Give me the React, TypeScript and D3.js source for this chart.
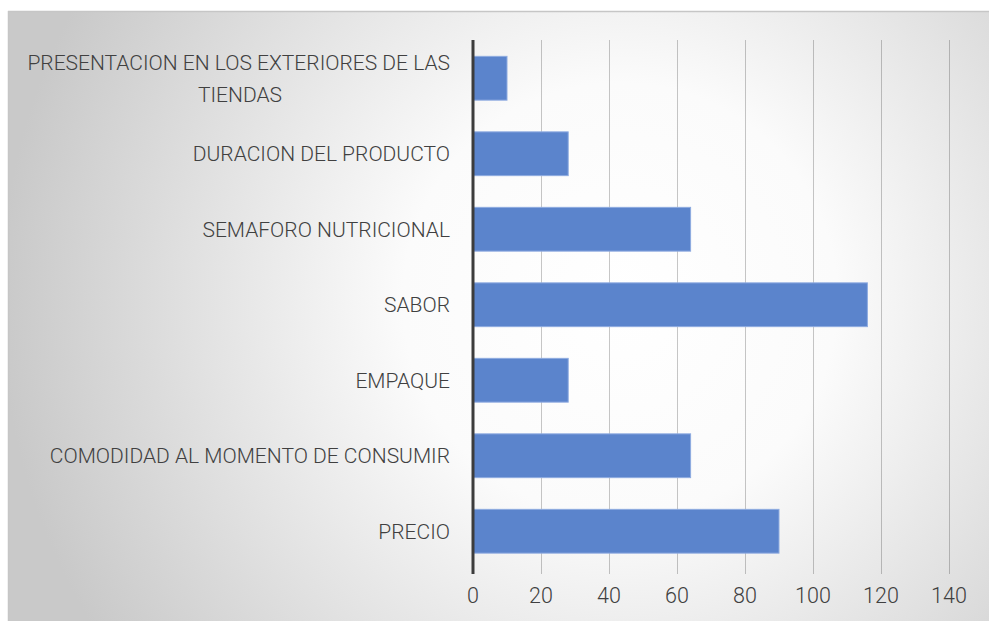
import React from "react";
import * as d3 from "d3";

const categories = [
  "PRESENTACION EN LOS EXTERIORES DE LAS|TIENDAS",
  "DURACION DEL PRODUCTO",
  "SEMAFORO NUTRICIONAL",
  "SABOR",
  "EMPAQUE",
  "COMODIDAD AL MOMENTO DE CONSUMIR",
  "PRECIO ",
];
const values = [10, 28, 64, 116, 28, 64, 90];
const ticks = [0, 20, 40, 60, 80, 100, 120, 140];

const W = 989;
const H = 621;

export default function App() {
  const x = d3.scaleLinear().domain([0, 140]).range([473, 949]);
  const y = d3
    .scaleBand<string>()
    .domain(categories)
    .range([40.5, 569])
    .paddingInner(0.42)
    .paddingOuter(0.21);
  const font = "Roboto, 'Noto Sans', sans-serif";
  const lblSize = 21;
  return (
    <svg
      width={W}
      height={H}
      style={{ position: "absolute", left: 0, top: 0 }}
    >
      <defs>
        <radialGradient
          id="bg"
          cx="620"
          cy="300"
          r="620"
          gradientUnits="userSpaceOnUse"
        >
          <stop offset="0" stopColor="#ffffff" />
          <stop offset="0.35" stopColor="#fbfbfb" />
          <stop offset="1" stopColor="#c9c9c9" />
        </radialGradient>
      </defs>
      <rect x={0} y={0} width={W} height={H} fill="#ffffff" />
      <rect x={8} y={11} width={W} height={H} fill="url(#bg)" />
      <line x1={8} x2={W} y1={11.5} y2={11.5} stroke="#c6c6c6" strokeWidth={1.5} />
      <line x1={8.5} x2={8.5} y1={11} y2={H} stroke="#c6c6c6" strokeWidth={1.5} />
      {ticks.slice(1).map((t) => (
        <line
          key={t}
          x1={x(t) + 0.5}
          x2={x(t) + 0.5}
          y1={40}
          y2={574}
          stroke="rgba(0,0,0,0.22)"
          strokeWidth={1}
        />
      ))}
      {categories.map((c, i) => (
        <rect
          key={c}
          x={x(0)}
          y={y(c)!}
          width={x(values[i]) - x(0)}
          height={y.bandwidth()}
          fill="#5b84cc"
          stroke="#8eabe0"
          strokeWidth={1}
        />
      ))}
      <line x1={x(0)} x2={x(0)} y1={40} y2={574} stroke="#3c3c3c" strokeWidth={3} />
      {categories.map((c) => {
        const parts = c.split("|");
        const cy = y(c)! + y.bandwidth() / 2;
        if (parts.length === 1) {
          return (
            <text
              key={c}
              x={450}
              y={cy}
              dy="0.35em"
              textAnchor="end"
              fontFamily={font}
              fontWeight={300}
              fontSize={lblSize}
              fill="#404040"
            >
              {parts[0]}
            </text>
          );
        }
        return (
          <g key={c}>
            <text
              x={450}
              y={cy - 16}
              dy="0.35em"
              textAnchor="end"
              fontFamily={font}
              fontWeight={300}
              fontSize={lblSize}
              fill="#404040"
            >
              {parts[0]}
            </text>
            <text
              x={240}
              y={cy + 16}
              dy="0.35em"
              textAnchor="middle"
              fontFamily={font}
              fontWeight={300}
              fontSize={lblSize}
              fill="#404040"
            >
              {parts[1]}
            </text>
          </g>
        );
      })}
      {ticks.map((t) => (
        <text
          key={t}
          x={x(t)}
          y={595}
          dy="0.35em"
          textAnchor="middle"
          fontFamily={font}
          fontWeight={300}
          fontSize={21.5}
          fill="#404040"
        >
          {t}
        </text>
      ))}
    </svg>
  );
}
